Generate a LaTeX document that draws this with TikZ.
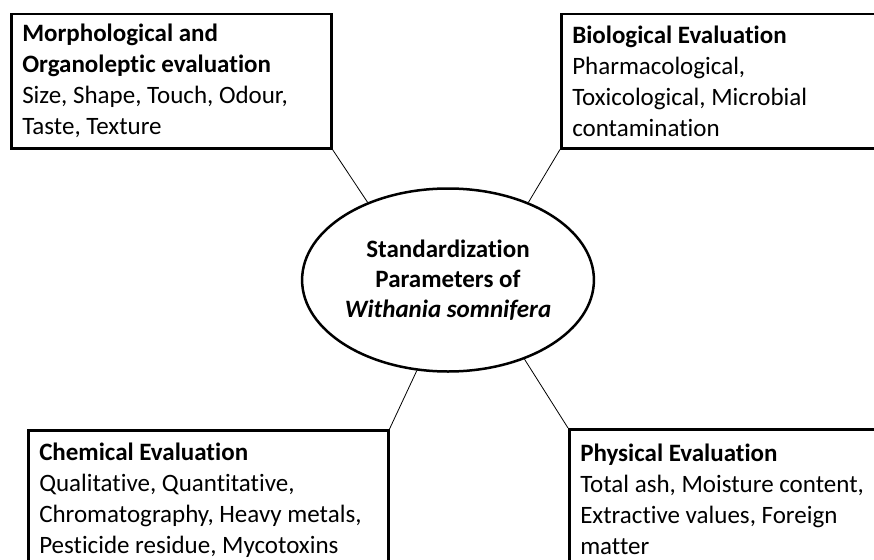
\documentclass[tikz,border=0pt]{standalone}
\usepackage{fontspec}
\setmainfont{Carlito}[Ligatures=NoCommon]
\usetikzlibrary{shapes.geometric}
\begin{document}
\begin{tikzpicture}[x=1pt,y=-1pt,
    evalbox/.style={draw,line width=2.5pt,rectangle,anchor=north west,align=flush left,inner xsep=11pt,inner ysep=0pt,font=\fontsize{25}{31}\selectfont},
    hub/.style={draw,line width=2.5pt,ellipse,inner sep=0pt,minimum width=287pt,minimum height=183pt,align=center,font=\fontsize{25}{30}\selectfont\bfseries},
    link/.style={line width=0.8pt}]
  \clip (0,0) rectangle (874,559);
  \fill[white] (0,0) rectangle (874,559);

  \node[hub] (centre) at (448,280) {Standardization\\Parameters of\\\textit{Withania somnifera}};

  \node[evalbox,text width=298pt,minimum height=134pt] (morph) at (10,13) {\textbf{Morphological and}\\\textbf{Organoleptic evaluation}\\Size, Shape, Touch, Odour,\\Taste, Texture};
  \node[evalbox,text width=318pt,minimum height=134pt] (bio) at (560,13) {\textbf{Biological Evaluation}\\Pharmacological,\\Toxicological, Microbial\\contamination};
  \node[evalbox,text width=338pt,minimum height=140pt] (chem) at (27,429) {\textbf{Chemical Evaluation}\\Qualitative, Quantitative,\\Chromatography, Heavy metals,\\Pesticide residue, Mycotoxins};
  \node[evalbox,text width=318pt,minimum height=140pt] (phys) at (568,428) {\textbf{Physical Evaluation}\\Total ash, Moisture content,\\Extractive values, Foreign\\matter};

  \draw[link] (morph.south east) -- (centre.136);
  \draw[link] (bio.south west) -- (centre.44);
  \draw[link] (chem.north east) -- (centre.251);
  \draw[link] (phys.north west) -- (centre.314);
\end{tikzpicture}
\end{document}
